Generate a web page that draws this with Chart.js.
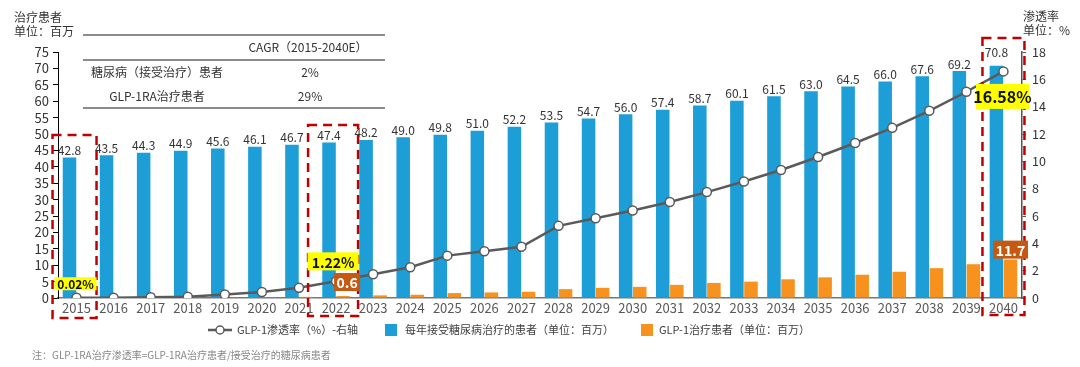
<!DOCTYPE html>
<html>
<head>
<meta charset="utf-8">
<script src="https://cdn.jsdelivr.net/npm/chart.js@4/dist/chart.umd.min.js"></script>
<style>
  html, body { margin: 0; padding: 0; background: #fff; }
  #wrap { width: 1080px; height: 367px; }
</style>
</head>
<body>
<div id="wrap"><canvas id="chart" width="1080" height="367"></canvas></div>
<script>
const years = ['2015', '2016', '2017', '2018', '2019', '2020', '2021', '2022', '2023', '2024', '2025', '2026', '2027',
  '2028', '2029', '2030', '2031', '2032', '2033', '2034', '2035', '2036', '2037', '2038', '2039', '2040'];
// patients receiving diabetes treatment each year (millions)
const treatedPatients = [42.8, 43.5, 44.3, 44.9, 45.6, 46.1, 46.7, 47.4, 48.2, 49.0, 49.8, 51.0, 52.2,
  53.5, 54.7, 56.0, 57.4, 58.7, 60.1, 61.5, 63.0, 64.5, 66.0, 67.6, 69.2, 70.8];
// GLP-1 treated patients (millions)
const glpPatients = [0.01, 0.01, 0.02, 0.05, 0.12, 0.2, 0.35, 0.6, 0.8, 1.0, 1.5, 1.7, 1.9,
  2.7, 3.1, 3.4, 4.0, 4.6, 5.0, 5.7, 6.3, 7.1, 8.0, 9.1, 10.3, 11.7];
// GLP-1 penetration rate (%)
const glpRate = [0.02, 0.02, 0.05, 0.1, 0.26, 0.44, 0.75, 1.22, 1.74, 2.25, 3.1, 3.42, 3.75,
  5.28, 5.84, 6.4, 7.02, 7.75, 8.52, 9.37, 10.32, 11.34, 12.45, 13.7, 15.09, 16.58];
const leftAxis = { max: 75, step: 5 };
const rightAxis = { max: 18, step: 2 };
const seriesNames = ['GLP-1渗透率（%）-右轴', '每年接受糖尿病治疗的患者（单位：百万）', 'GLP-1治疗患者（单位：百万）'];
const cagrRows = [
  ['糖尿病（接受治疗）患者', '2%'],
  ['GLP-1RA治疗患者', '29%']
];
const highlighted = [0, 7, 25];

const FONT = '"Noto Sans CJK SC", "Noto Sans", sans-serif';
const BLUE = '#1E9ED6';
const ORANGE = '#F7921E';
const LINE = '#5A5A5A';

function label(ctx, text, cx, cy, w, h, bg, fg, size) {
  ctx.fillStyle = bg;
  ctx.fillRect(cx - w / 2, cy - h / 2, w, h);
  ctx.fillStyle = fg;
  ctx.font = 'bold ' + size + 'px ' + FONT;
  ctx.textAlign = 'center';
  ctx.textBaseline = 'middle';
  ctx.fillText(text, cx, cy + 1);
}

const extras = {
  id: 'extras',
  afterDraw(chart) {
    const ctx = chart.ctx;
    const x = chart.scales.x, y1 = chart.scales.y1;
    const blueMeta = chart.getDatasetMeta(1);
    const orangeMeta = chart.getDatasetMeta(2);
    ctx.save();

    // values above blue bars
    ctx.font = '12px ' + FONT;
    ctx.fillStyle = '#333';
    ctx.textAlign = 'center';
    ctx.textBaseline = 'bottom';
    blueMeta.data.forEach((bar, i) => {
      const extra = i === treatedPatients.length - 1 ? 6 : 0;
      ctx.fillText(treatedPatients[i].toFixed(1), bar.x, bar.y - 1 - extra);
    });

    // axis titles
    ctx.textAlign = 'left';
    ctx.textBaseline = 'middle';
    ctx.fillStyle = '#333';
    ctx.font = '12px ' + FONT;
    ctx.fillText('治疗患者', 14, 17);
    ctx.fillText('单位：百万', 14, 31);
    ctx.fillText('渗透率', 1023, 16);
    ctx.fillText('单位：%', 1023, 30);

    // CAGR table
    ctx.strokeStyle = '#666';
    ctx.lineWidth = 1.5;
    [35, 60, 108].forEach(ly => {
      ctx.beginPath();
      ctx.moveTo(83, ly);
      ctx.lineTo(385, ly);
      ctx.stroke();
    });
    ctx.fillStyle = '#333';
    ctx.textAlign = 'center';
    ctx.font = '12px ' + FONT;
    ctx.fillText('CAGR（2015-2040E）', 308, 47);
    cagrRows.forEach((row, i) => {
      ctx.fillText(row[0], 157, 72 + i * 24);
      ctx.fillText(row[1], 310, 72 + i * 24);
    });

    // legend
    const ly = 330;
    ctx.strokeStyle = LINE;
    ctx.lineWidth = 2.5;
    ctx.beginPath();
    ctx.moveTo(208, ly);
    ctx.lineTo(232, ly);
    ctx.stroke();
    ctx.beginPath();
    ctx.arc(220, ly, 4, 0, Math.PI * 2);
    ctx.fillStyle = '#fff';
    ctx.fill();
    ctx.lineWidth = 1.5;
    ctx.stroke();
    ctx.font = '11px ' + FONT;
    ctx.textAlign = 'left';
    ctx.fillStyle = '#404040';
    ctx.fillText(seriesNames[0], 237, ly);
    ctx.fillStyle = BLUE;
    ctx.fillRect(385, ly - 6, 12, 12);
    ctx.fillStyle = '#404040';
    ctx.fillText(seriesNames[1], 405, ly);
    ctx.fillStyle = ORANGE;
    ctx.fillRect(641, ly - 6, 12, 12);
    ctx.fillStyle = '#404040';
    ctx.fillText(seriesNames[2], 659, ly);

    // footnote
    ctx.font = '10px ' + FONT;
    ctx.fillStyle = '#888';
    ctx.fillText('注：GLP-1RA治疗渗透率=GLP-1RA治疗患者/接受治疗的糖尿病患者', 32, 355);

    // red dashed highlight boxes
    ctx.strokeStyle = '#C00000';
    ctx.lineWidth = 2.5;
    ctx.setLineDash([9, 6]);
    const boxes = [[-2, 22, 135, 318], [-3, 25, 125, 316], [0, 21, 38, 315]];
    highlighted.forEach((idx, k) => {
      const [dx, hw, top, bottom] = boxes[k];
      const cx = x.getPixelForValue(idx) + dx;
      ctx.strokeRect(cx - hw, top, hw * 2, bottom - top);
    });
    ctx.setLineDash([]);

    // callouts
    const last = years.length - 1;
    label(ctx, glpRate[0].toFixed(2) + '%', x.getPixelForValue(0) - 1, y1.getPixelForValue(glpRate[0]) - 14, 42, 13, '#FFFF00', '#111', 12);
    label(ctx, glpRate[7].toFixed(2) + '%', x.getPixelForValue(7) - 3, y1.getPixelForValue(glpRate[7]) - 20, 51, 18, '#FFFF00', '#111', 14);
    label(ctx, glpPatients[7].toFixed(1), orangeMeta.data[7].x + 4, orangeMeta.data[7].y - 14, 26, 18, '#C65911', '#fff', 14);
    label(ctx, glpRate[last].toFixed(2) + '%', x.getPixelForValue(last) - 1, y1.getPixelForValue(glpRate[last]) + 25, 53, 25, '#FFFF00', '#111', 16);
    label(ctx, glpPatients[last].toFixed(1), orangeMeta.data[last].x, orangeMeta.data[last].y - 10, 35, 18, '#C65911', '#fff', 14);

    ctx.restore();
  }
};

new Chart(document.getElementById('chart'), {
  type: 'bar',
  data: {
    labels: years,
    datasets: [{
      type: 'line',
      label: seriesNames[0],
      data: glpRate,
      yAxisID: 'y1',
      borderColor: LINE,
      borderWidth: 2.5,
      pointRadius: 4.5,
      pointBackgroundColor: '#fff',
      pointBorderColor: LINE,
      pointBorderWidth: 1.5,
      tension: 0,
      order: 0,
    }, {
      label: seriesNames[1],
      data: treatedPatients,
      yAxisID: 'y',
      backgroundColor: BLUE,
      categoryPercentage: 0.76,
      barPercentage: 0.96,
      order: 1,
    }, {
      label: seriesNames[2],
      data: glpPatients,
      yAxisID: 'y',
      backgroundColor: ORANGE,
      categoryPercentage: 0.76,
      barPercentage: 0.96,
      order: 1,
    }],
  },
  options: {
    responsive: false,
    animation: false,
    devicePixelRatio: 1,
    layout: { padding: { top: 52, bottom: 47, left: 0, right: 0 } },
    plugins: { legend: { display: false }, tooltip: { enabled: false } },
    scales: {
      x: {
        grid: { display: false, drawTicks: false, tickLength: 0 },
        border: { display: true, color: '#777', width: 1.5 },
        ticks: { color: '#595959', font: { family: FONT, size: 13 }, padding: 2, maxRotation: 0, autoSkip: false },
        afterFit: s => { s.height = 22; },
      },
      y: {
        position: 'left',
        min: 0,
        max: leftAxis.max,
        grid: { display: true, drawOnChartArea: false, drawTicks: true, tickLength: 5, color: '#000' },
        border: { display: true, color: '#000', width: 1 },
        ticks: { stepSize: leftAxis.step, autoSkip: false, color: '#333', font: { family: FONT, size: 13 }, padding: 4 },
        afterFit: s => { s.width = 58; },
      },
      y1: {
        position: 'right',
        min: 0,
        max: rightAxis.max,
        grid: { display: true, drawOnChartArea: false, drawTicks: true, tickLength: 4, color: '#555' },
        border: { display: true, color: '#555', width: 1.5 },
        ticks: { stepSize: rightAxis.step, autoSkip: false, color: '#333', font: { family: FONT, size: 12.5 }, padding: 6 },
        afterFit: s => { s.width = 58; },
      },
    },
  },
  plugins: [extras],
});
</script>
</body>
</html>
